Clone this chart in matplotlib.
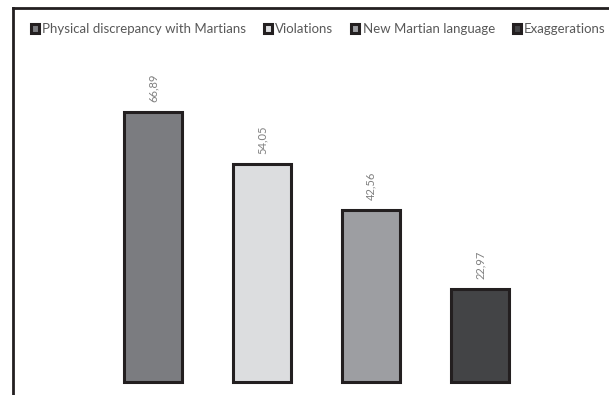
import matplotlib
matplotlib.use("Agg")
import matplotlib.pyplot as plt
from matplotlib.patches import Patch

categories = ["Physical discrepancy with Martians", "Violations", "New Martian language", "Exaggerations"]
values = [66.89, 54.05, 42.56, 22.97]
colors = ["#7b7c80", "#dcdddf", "#9d9ea2", "#434446"]

plt.rcParams['font.family'] = ['Lato', 'DejaVu Sans']

W, H = 609, 395
fig = plt.figure(figsize=(W / 100, H / 100), dpi=100)

# axes runs from the frame (left/top lines) to the right/bottom image edges
ax = fig.add_axes([13 / W, 0, (W - 13) / W, (H - 8) / H])
px_per_unit = 4.04
ax.set_ylim(-13 / px_per_unit, 374 / px_per_unit)
ax.set_xlim(-1.284, 4.18)

x = range(len(values))
bars = ax.bar(x, values, width=0.53, color=colors, edgecolor="#231f20", linewidth=2.2)

for xi, v in zip(x, values):
    ax.annotate(f"{v:.2f}".replace(".", ","), (xi, v), xytext=(0, 7), textcoords="offset points",
                rotation=90, ha="center", va="bottom", fontsize=8, color="#7f7f7f")

for side in ["right", "bottom"]:
    ax.spines[side].set_visible(False)
for side in ["left", "top"]:
    ax.spines[side].set_color("#231f20")
    ax.spines[side].set_linewidth(2)
ax.set_xticks([])
ax.set_yticks([])

handles = [Patch(facecolor=c, edgecolor="#231f20", linewidth=2.2) for c in colors]
ax.legend(handles, categories, ncol=4, loc="upper left", bbox_to_anchor=(0.015, 0.985),
          frameon=False, fontsize=9.5, labelcolor="#595959", handlelength=0.6, handleheight=0.6,
          handletextpad=0.25, columnspacing=1.35, borderaxespad=0.3)

fig.savefig("out.png", dpi=100)
